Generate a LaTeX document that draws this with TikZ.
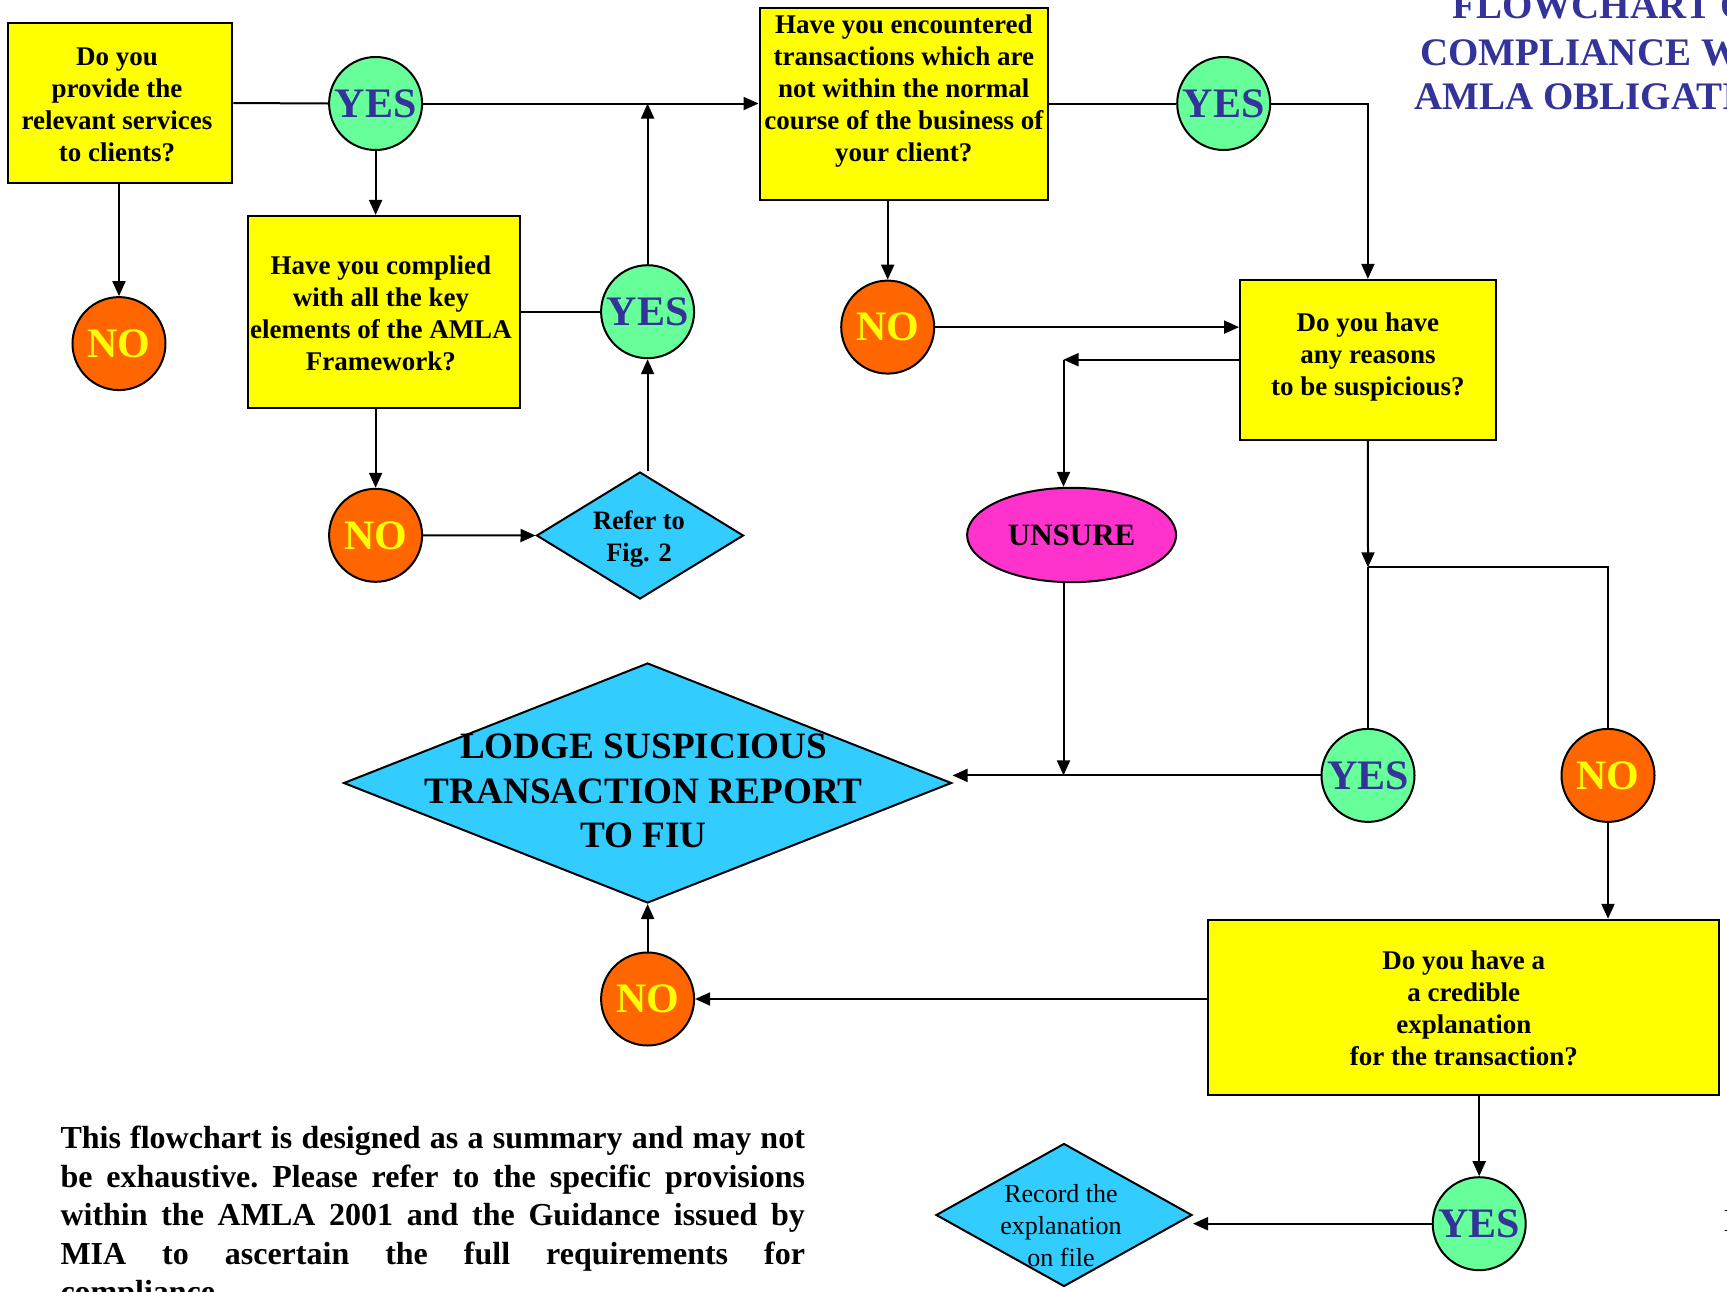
\documentclass[tikz,border=0pt]{standalone}
\usepackage{fontspec}
\setmainfont{Liberation Serif}
\usetikzlibrary{shapes.geometric,arrows.meta}
\definecolor{boxyellow}{HTML}{FFFF00}
\definecolor{yesgreen}{HTML}{66FF99}
\definecolor{noorange}{HTML}{FF6600}
\definecolor{yesblue}{HTML}{333399}
\definecolor{diacyan}{HTML}{33CCFF}
\definecolor{unsmag}{HTML}{FF33CC}
\newcommand\qfont{\fontsize{27}{32}\selectfont\bfseries}
\newcommand\ynfont{\fontsize{42}{42}\selectfont\bfseries}
\tikzset{
  qbox/.style={draw, fill=boxyellow, line width=2pt, inner sep=0pt, align=center, font=\qfont},
  qlab/.style={font=\qfont, align=center},
  yescirc/.style={circle, draw, fill=yesgreen, line width=2pt, minimum size=93pt, inner sep=0pt, text=yesblue, font=\ynfont},
  nocirc/.style={circle, draw, fill=noorange, line width=2pt, minimum size=93pt, inner sep=0pt, text=boxyellow, font=\ynfont},
  dia/.style={diamond, draw, fill=diacyan, line width=2pt, inner sep=0pt},
  arr/.style={-{Triangle[length=15pt,width=13pt]}},
  titletext/.style={anchor=base, inner sep=0pt, text=yesblue, font=\fontsize{39}{45}\selectfont\bfseries},
}
\begin{document}
\begin{tikzpicture}[x=1pt,y=-1pt,line width=2pt]
\useasboundingbox (0,0) rectangle (1727,1291);
\clip (0,0) rectangle (1727,1291);

% title (cut at the right edge, as in the reference)
\node[titletext] (t1) at (1616,18.3) {FLOWCHART ON};
\node[titletext] (t2) at (1616,65) {COMPLIANCE WITH};
\node[titletext] (t3) at (1616,109.3) {AMLA OBLIGATIONS};

% boxes
\node[qbox, minimum width=224.7pt, minimum height=159.7pt,
  label={[qlab,xshift=-3pt,yshift=-1.5pt]center:Do you\\provide the\\relevant services\\to clients?}] (boxA) at (120,103) {};
\node[qbox, minimum width=288.5pt, minimum height=192.2pt,
  label={[qlab,yshift=13pt]center:Have you encountered\\transactions which are\\not within the normal\\course of the business of\\your client?}] (boxB) at (903.8,103.6) {};
\node[qbox, minimum width=272pt, minimum height=191.6pt,
  label={[qlab,xshift=-3pt,yshift=-1.2pt]center:Have you complied\\with all the key\\elements of the AMLA\\Framework?}] (boxC) at (383.9,311.7) {};
\node[qbox, minimum width=255.7pt, minimum height=159.7pt,
  label={[qlab,yshift=3pt]center:Do you have\\any reasons\\to be suspicious?}] (boxD) at (1367.9,359.7) {};
\node[qbox, minimum width=511pt, minimum height=175pt,
  label={[qlab,yshift=-1.2pt]center:Do you have a\\a credible\\explanation\\for the transaction?}] (boxE) at (1463.8,1007.3) {};

% circles
\node[yescirc] (yes1) at (375.6,103.5) {YES};
\node[yescirc] (yes2) at (1223.7,103.5) {YES};
\node[yescirc] (yes3) at (647.6,311.7) {YES};
\node[yescirc] (yes4) at (1368,775.4) {YES};
\node[yescirc] (yes5) at (1479.2,1223.7) {YES};
\node[nocirc] (no1) at (119,343.6) {NO};
\node[nocirc] (no2) at (887.7,327.1) {NO};
\node[nocirc] (no3) at (375.6,535.3) {NO};
\node[nocirc] (no4) at (1608,775.4) {NO};
\node[nocirc] (no5) at (647.6,999) {NO};

% diamonds and ellipse
\node[dia, minimum width=207pt, minimum height=127pt,
  label={[font=\fontsize{26.5}{31.7}\selectfont\bfseries,align=center,xshift=-1pt,yshift=-3.3pt]center:Refer to\\Fig. 2}] (refer) at (640,535.5) {};
\node[dia, minimum width=608pt, minimum height=240pt,
  label={[font=\fontsize{37.2}{44.6}\selectfont\bfseries,align=center,xshift=-4pt,yshift=-8pt]center:LODGE SUSPICIOUS\\TRANSACTION REPORT\\TO FIU}] (lodge) at (647.6,783) {};
\node[dia, minimum width=256pt, minimum height=143pt,
  label={[font=\fontsize{26}{32}\selectfont,align=center,xshift=-3pt,yshift=-11pt]center:Record the\\explanation\\on file}] (rec) at (1064,1215) {};
\node[ellipse, draw, fill=unsmag, line width=2pt, minimum width=209pt, minimum height=94.4pt, inner sep=0pt,
  font=\fontsize{31}{31}\selectfont\bfseries] (unsure) at (1071.6,535) {UNSURE};

% helper coordinates
\coordinate (c1) at (1063.5,359.7);
\coordinate (j) at (1368,567.3);
\coordinate (c2) at (1063.5,775.4);

% connectors
\draw (boxA.east) -- (yes1.west);
\draw[arr] (yes1.east) -- (boxB.west |- yes1.east);
\draw[arr] (yes1.south) -- (yes1.south |- boxC.north);
\draw[arr] (no1.north |- boxA.south) -- (no1.north);
\draw (boxC.east |- yes3) -- (yes3.west);
\draw[arr] (yes3.north) -- (yes3.north |- yes1.east);
\draw[arr] (no3.north |- boxC.south) -- (no3.north);
\draw[arr] (no3.east) -- (refer.west);
\draw[arr] (yes3.south |- refer.north) -- (yes3.south);
\draw[arr] (no2.north |- boxB.south) -- (no2.north);
\draw (boxB.east |- yes2) -- (yes2.west);
\draw[arr] (yes2.east) -| (boxD.north);
\draw[arr] (no2.east) -- (no2.east -| boxD.west);
\draw[arr] (boxD.west) -- (c1);
\draw[arr] (c1) -- (c1 |- unsure.north);
\draw[arr] (boxD.south) -- (j);
\draw (j) -- (yes4.north);
\draw (j) -| (no4.north);
\draw[arr] (yes4.west) -- (yes4.west -| lodge.east);
\draw[arr] (c1 |- unsure.south) -- (c2);
\draw[arr] (no4.south) -- (no4.south |- boxE.north);
\draw[arr] (boxE.west |- no5) -- (no5.east);
\draw[arr] (no5.north) -- (lodge.south);
\draw[arr] (yes5.north |- boxE.south) -- (yes5.north);
\draw[arr] (yes5.west) -- (yes5.west -| rec.east);

% note (last line cut at the bottom edge, as in the reference)
\node[anchor=base west, inner sep=0pt] (note) at (59.5,1148.5) {\parbox[t]{744.5pt}{\fontsize{32}{38.5}\selectfont\bfseries\frenchspacing
\makebox[\linewidth][s]{This flowchart is designed as a summary and may not}\\
\makebox[\linewidth][s]{be exhaustive. Please refer to the specific provisions}\\
\makebox[\linewidth][s]{within the AMLA 2001 and the Guidance issued by}\\
\makebox[\linewidth][s]{MIA to ascertain the full requirements for}\\
compliance.}};

% fragment at the right edge
\node[anchor=base west, inner sep=0pt, font=\fontsize{32}{38}\selectfont] (frag) at (1722.5,1231.7) {I};
\end{tikzpicture}
\end{document}
